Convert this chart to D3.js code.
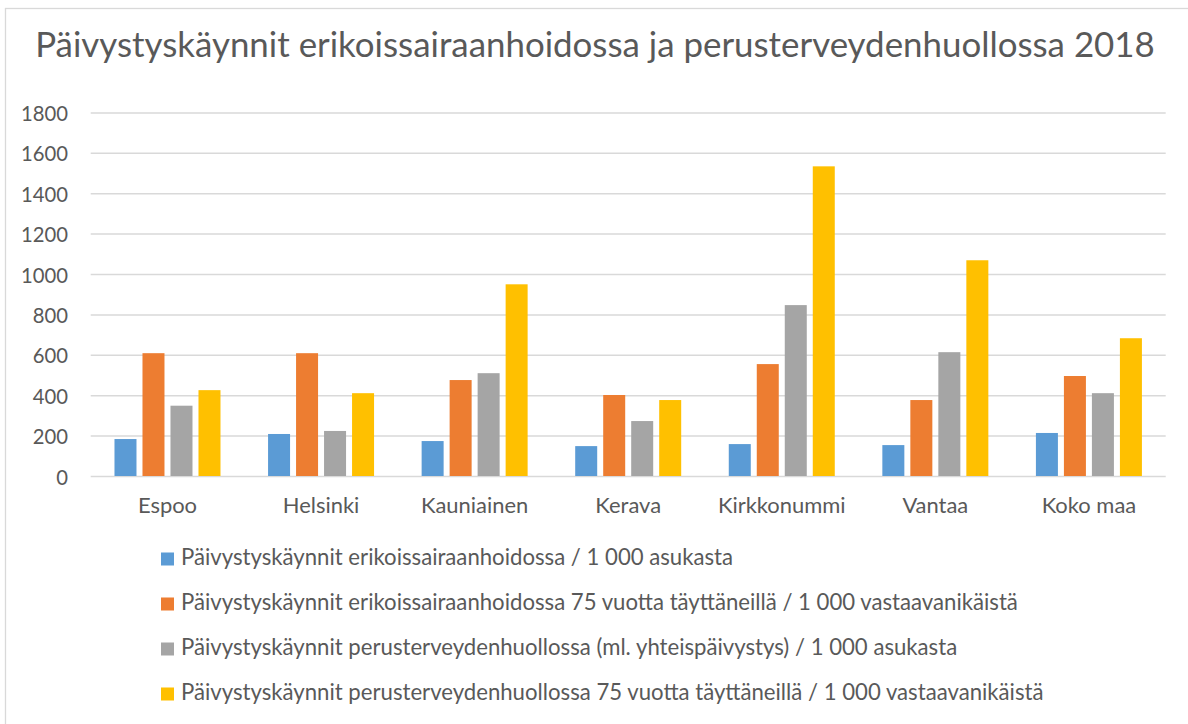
<!DOCTYPE html>
<html>
<head>
<meta charset="utf-8">
<script src="https://cdn.jsdelivr.net/npm/d3@7"></script>
<style>
  html, body { margin: 0; padding: 0; background: #fff; }
  svg { display: block; }
  text { font-family: Lato, "Open Sans", sans-serif; fill: #595959; }
</style>
</head>
<body>
<svg id="chart" width="1188" height="724"></svg>
<script>
const title = "Päivystyskäynnit erikoissairaanhoidossa ja perusterveydenhuollossa 2018";
const categories = ["Espoo", "Helsinki", "Kauniainen", "Kerava", "Kirkkonummi", "Vantaa", "Koko maa"];
const seriesNames = [
  "Päivystyskäynnit erikoissairaanhoidossa / 1 000 asukasta",
  "Päivystyskäynnit erikoissairaanhoidossa 75 vuotta täyttäneillä / 1 000 vastaavanikäistä",
  "Päivystyskäynnit perusterveydenhuollossa (ml. yhteispäivystys) / 1 000 asukasta",
  "Päivystyskäynnit perusterveydenhuollossa 75 vuotta täyttäneillä / 1 000 vastaavanikäistä"
];
const esh = [183, 208, 173, 148, 158, 153, 213];
const esh75 = [608, 608, 475, 401, 554, 376, 495];
const pth = [348, 223, 509, 272, 846, 613, 410];
const pth75 = [425, 410, 949, 376, 1533, 1068, 682];
const yTicks = [0, 200, 400, 600, 800, 1000, 1200, 1400, 1600, 1800];
const colors = ["#5B9BD5", "#ED7D31", "#A5A5A5", "#FFC000"];

const seriesValues = [esh, esh75, pth, pth75];

const svg = d3.select("#chart");

function fitSize(sel, target) {
  const fs = parseFloat(sel.attr("font-size"));
  const w = sel.node().getComputedTextLength();
  return fs * target / w;
}
function fit(sel, target) {
  const nf = fitSize(sel, target);
  sel.attr("font-size", nf);
  return nf;
}

// outer border
svg.append("rect")
  .attr("x", 5.5).attr("y", 8.5)
  .attr("width", 1200).attr("height", 740)
  .attr("fill", "none").attr("stroke", "#D9D9D9").attr("stroke-width", 1.3);

// title
const t = svg.append("text")
  .attr("x", 595).attr("y", 57)
  .attr("text-anchor", "middle")
  .attr("font-size", 36)
  .text(title);
fit(t, 1120);

// scales
const x0 = d3.scaleBand().domain(categories).range([90.7, 1165.7]).paddingInner(0).paddingOuter(0);
const x1 = d3.scaleBand().domain(d3.range(seriesValues.length)).range([-53, 53]).paddingInner(6 / 28).paddingOuter(0);
const y = d3.scaleLinear().domain([0, 1800]).range([476, 112.4]);

// gridlines
const yAxis = d3.axisLeft(y).tickValues(yTicks).tickSize(-(1165.7 - 90.7)).tickFormat("");
const gy = svg.append("g").attr("transform", "translate(90.7,0)").call(yAxis);
gy.select(".domain").remove();
gy.selectAll(".tick line").attr("stroke", "#D9D9D9").attr("stroke-width", 1.5);

// y tick labels
const ylab = svg.append("g").selectAll("text").data(yTicks).join("text")
  .attr("x", 68).attr("y", d => y(d) + 8.5)
  .attr("text-anchor", "end")
  .attr("font-size", 24)
  .text(d => d);
const yfs = fit(d3.select(ylab.nodes()[yTicks.length - 1]), 47);
ylab.attr("font-size", yfs);

// bars
const groups = svg.append("g").selectAll("g").data(categories).join("g")
  .attr("transform", d => `translate(${x0(d) + x0.bandwidth() / 2},0)`);
groups.selectAll("rect")
  .data((c, i) => seriesValues.map((s, k) => ({ k, v: s[i] })))
  .join("rect")
  .attr("x", d => x1(d.k))
  .attr("width", x1.bandwidth())
  .attr("y", d => y(d.v))
  .attr("height", d => y(0) - y(d.v))
  .attr("fill", d => colors[d.k]);

// x labels
const xlab = svg.append("g").selectAll("text").data(categories).join("text")
  .attr("x", d => x0(d) + x0.bandwidth() / 2)
  .attr("y", 513)
  .attr("text-anchor", "middle")
  .attr("font-size", 24)
  .text(d => d);
const xfs = (fitSize(d3.select(xlab.nodes()[0]), 59) + fitSize(d3.select(xlab.nodes()[6]), 95)) / 2;
xlab.attr("font-size", xfs);

// legend
const leg = svg.append("g").selectAll("g").data(seriesNames).join("g")
  .attr("transform", (d, i) => `translate(0,${565 + i * 45})`);
leg.append("rect")
  .attr("x", 161).attr("y", -12.5)
  .attr("width", 13).attr("height", 13)
  .attr("fill", (d, i) => colors[i]);
const ltxt = leg.append("text")
  .attr("x", 181).attr("y", 0)
  .attr("font-size", 20)
  .text(d => d);
const legTargets = [549, 840, 778, 865];
const lfs = d3.mean(ltxt.nodes(), (n, i) => fitSize(d3.select(n), legTargets[i]));
ltxt.attr("font-size", lfs);
</script>
</body>
</html>
